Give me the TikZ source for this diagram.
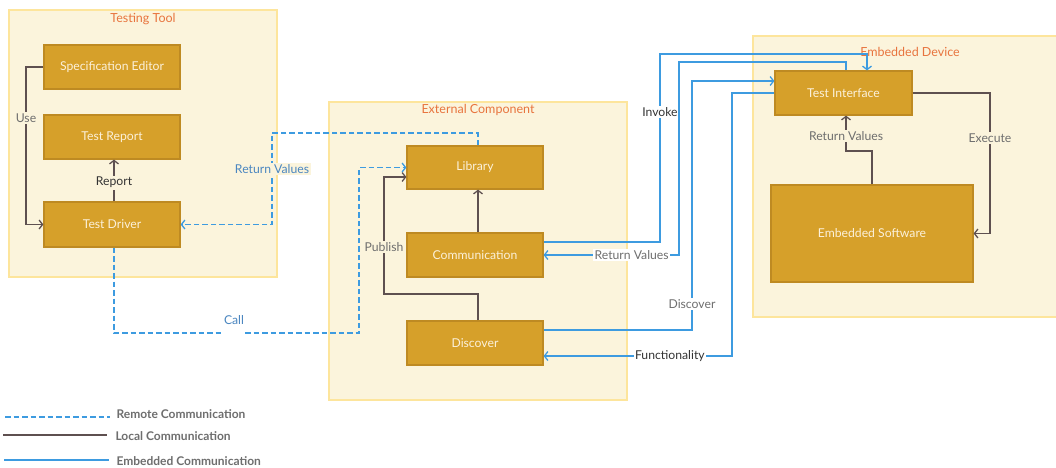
\documentclass[tikz,border=0pt]{standalone}
\usepackage{fontspec}
\setmainfont{Lato}
\usetikzlibrary{arrows.meta,calc}
\definecolor{boxfill}{HTML}{D6A02A}
\definecolor{boxline}{HTML}{BE8A22}
\definecolor{boxtext}{HTML}{FCF1DA}
\definecolor{ctbg}{HTML}{FBF4DC}
\definecolor{ctline}{HTML}{FDE59C}
\definecolor{titlec}{HTML}{E8743E}
\definecolor{localc}{HTML}{5E5050}
\definecolor{embc}{HTML}{3D9BE0}
\definecolor{remlbl}{HTML}{4A86C0}
\definecolor{lblgray}{HTML}{6E6E6E}
\definecolor{lbldark}{HTML}{333333}
\begin{document}
\begin{tikzpicture}[x=1pt,y=-1pt,
  container/.style={draw=ctline,fill=ctbg,line width=1.2pt},
  ctitle/.style={text=titlec,font=\fontsize{12.5}{14}\selectfont},
  box/.style={draw=boxline,fill=boxfill,text=boxtext,line width=1.2pt,minimum width=136pt,minimum height=44pt,inner sep=0pt,font=\fontsize{12.2}{14}\selectfont},
  lbl/.style={text=lblgray,font=\fontsize{12.2}{14}\selectfont,inner sep=1.5pt},
  tip/.style={-{Straight Barb[length=3.5pt,width=9pt,line width=1.3pt]}},
  localln/.style={draw=localc,line width=1.4pt},
  embln/.style={draw=embc,line width=1.4pt},
  remln/.style={draw=embc,line width=1.4pt,dash pattern=on 5.5pt off 3pt},
  legend/.style={anchor=west,text=lblgray,font=\bfseries\fontsize{12}{14}\selectfont}]
\clip (0,0) rectangle (1056,467);
\useasboundingbox (0,0) rectangle (1056,467);
\fill[white] (0,0) rectangle (1056,467);
% containers
\draw[container] (9,10) rectangle (277,277);
\draw[container] (329,102) rectangle (627,400);
\draw[container] (753,36) rectangle (1064,317);
\node[ctitle] (t1) at (143,19) {Testing Tool};
\node[ctitle] (t2) at (478,110) {External Component};
\node[ctitle] (t3) at (910,52) {Embedded Device};
% boxes
\node[box] (spec) at (112,67) {Specification Editor};
\node[box] (tr) at (112,137) {Test Report};
\node[box,minimum height=45pt] (td) at (112,224.5) {Test Driver};
\node[box,minimum height=43pt] (lib) at (475,167.5) {Library};
\node[box] (comm) at (475,255) {Communication};
\node[box] (disc) at (475,343) {Discover};
\node[box,minimum width=137pt] (ti) at (843.5,93) {Test Interface};
\node[box,minimum width=202pt,minimum height=97pt] (es) at (872,233.5) {Embedded Software};
% local
\draw[localln,tip] (spec.west) -| (26,118) node[lbl,fill=ctbg] {Use} |- (td.west);
\draw[localln,tip] (114,0 |- td.north) -- node[lbl,fill=ctbg,text=lbldark,pos=0.45] {Report} (114,0 |- tr.south);
\draw[localln,tip] (478,0 |- comm.north) -- (478,0 |- lib.south);
\draw[localln,tip] (478,0 |- disc.north) -- (478,294) -| (384,247) node[lbl,fill=ctbg] {Publish} |- ($(lib.west)+(0,9.5)$);
\draw[localln,tip] (872,0 |- es.north) |- (846,151) -- node[lbl,fill=ctbg,pos=0.42] {Return Values} (846,0 |- ti.south);
\draw[localln,tip] (ti.east) -| (990,138) node[lbl,fill=ctbg] {Execute} |- (es.east);
% remote
\draw[remln,tip] (478,0 |- lib.north) -- (478,133) -| (272,169) node[lbl,fill=ctbg,text=remlbl] {Return Values} |- (td.east);
\draw[remln,tip] (114,0 |- td.south) -- (114,333) -- (222,333) (245,333) -- (359,333) |- (lib.west);
\node[lbl,text=remlbl] (call) at (234,320) {Call};
% embedded
\draw[embln,tip] (comm.east |- 0,242) -| (660,112) node[lbl,fill=white,text=lbldark] {Invoke} |- (867,54) -- (867,0 |- ti.north);
\draw[embln,tip] (846,0 |- ti.north) -- (846,62) -| (679,255) -- node[lbl,fill=white,pos=0.35] {Return Values} (comm.east |- 0,255);
\draw[embln,tip] (disc.east |- 0,330) -| (692,304) node[lbl,fill=white] {Discover} |- (ti.west |- 0,81);
\draw[embln,tip] (ti.west) -| (732,356) -- node[lbl,fill=white,text=lbldark,pos=0.33] {Functionality} (disc.east |- 0,356);
% legend
\coordinate (r1) at (5,417); \coordinate (r2) at (110,417);
\coordinate (l1) at (3,435); \coordinate (l2) at (107,435);
\coordinate (e1) at (4,460); \coordinate (e2) at (109,460);
\draw[remln] (r1) -- (r2);
\draw[localln] (l1) -- (l2);
\draw[embln] (e1) -- (e2);
\node[legend] (lr) at (113,414) {Remote Communication};
\node[legend] (ll) at (112,436) {Local Communication};
\node[legend] (le) at (113,461) {Embedded Communication};
\end{tikzpicture}
\end{document}
